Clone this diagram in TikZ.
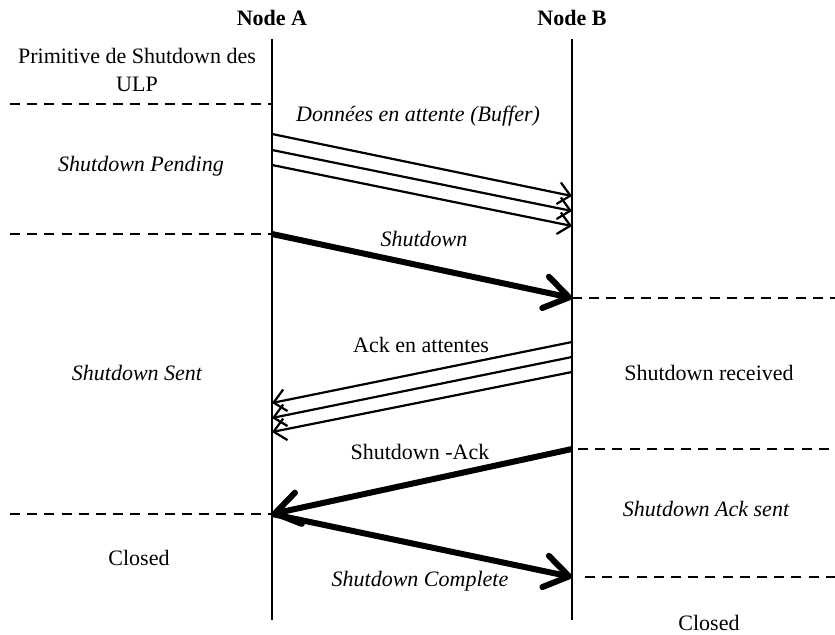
\documentclass[tikz,border=0pt]{standalone}
\usepackage{fontspec}
\setmainfont{Liberation Serif}
\usetikzlibrary{arrows.meta}
\tikzset{
  lifeline/.style={line width=1.4pt},
  msg/.style={line width=1.1pt,-{Straight Barb[length=6pt,width=11pt]}},
  bigmsg/.style={line width=3pt,-{Straight Barb[length=12pt,width=16pt,round]}},
  state/.style={dashed,line width=1.4pt,dash pattern=on 5pt off 3.6pt},
  lbl/.style={font=\fontsize{11pt}{13pt}\selectfont,inner sep=0pt}
}
\begin{document}
\begin{tikzpicture}[x=0.5pt,y=-0.5pt]
\useasboundingbox (0,0) rectangle (835,635);
% lifelines
\node [lbl,font=\fontsize{11pt}{13pt}\selectfont\bfseries] (nA) at (272,18) {Node A};
\node [lbl,font=\fontsize{11pt}{13pt}\selectfont\bfseries] (nB) at (572,18) {Node B};
\coordinate (Atop) at (272,39);
\coordinate (Abot) at (272,620);
\coordinate (Btop) at (572,39);
\coordinate (Bbot) at (572,620);
\draw [lifeline] (Atop) -- (Abot);
\draw [lifeline] (Btop) -- (Bbot);
% state separators
\coordinate (L1) at (10,104);
\coordinate (A1) at (272,104);
\coordinate (L2) at (10,234);
\coordinate (A2) at (272,234);
\coordinate (L3) at (10,514);
\coordinate (A3) at (272,514);
\coordinate (B1) at (572,298);
\coordinate (R1) at (835,298);
\coordinate (B2) at (578,449);
\coordinate (R2) at (835,449);
\coordinate (B3) at (585,577);
\coordinate (R3) at (835,577);
\draw [state] (L1) -- (A1);
\draw [state] (L2) -- (A2);
\draw [state] (L3) -- (A3);
\draw [state] (B1) -- (R1);
\draw [state] (B2) -- (R2);
\draw [state] (B3) -- (R3);
% buffered data
\coordinate (d1) at (272,134);
\coordinate (d2) at (272,150);
\coordinate (d3) at (272,165);
\coordinate (e1) at (572,196);
\coordinate (e2) at (572,211);
\coordinate (e3) at (572,226);
\draw [msg] (d1) -- (e1);
\draw [msg] (d2) -- (e2);
\draw [msg] (d3) -- (e3);
% shutdown
\coordinate (sB) at (572,298);
\draw [bigmsg] (A2) -- (sB);
% buffered acks
\coordinate (k1) at (572,342);
\coordinate (k2) at (572,357);
\coordinate (k3) at (572,372);
\coordinate (m1) at (272,403);
\coordinate (m2) at (272,418);
\coordinate (m3) at (272,432);
\draw [msg] (k1) -- (m1);
\draw [msg] (k2) -- (m2);
\draw [msg] (k3) -- (m3);
% shutdown ack and complete
\coordinate (aB) at (572,449);
\coordinate (cB) at (572,577);
\draw [bigmsg] (aB) -- (A3);
\draw [bigmsg] (A3) -- (cB);
% labels
\node [lbl,align=center] (prim) at (137,70) {Primitive de Shutdown des\\[1pt]ULP};
\node [lbl] (buf) at (418,116) {\itshape Données en attente (Buffer)};
\node [lbl] (pend) at (141,166) {\itshape Shutdown Pending};
\node [lbl] (shut) at (424,239) {\itshape Shutdown};
\node [lbl] (acks) at (421,345) {Ack en attentes};
\node [lbl] (sent) at (137,373) {\itshape Shutdown Sent};
\node [lbl] (recv) at (709,373) {Shutdown received};
\node [lbl] (sack) at (420,452) {Shutdown -Ack};
\node [lbl] (asent) at (706,509) {\itshape Shutdown Ack sent};
\node [lbl] (closA) at (139,558) {Closed};
\node [lbl] (comp) at (420,581) {\itshape Shutdown Complete};
\node [lbl] (closB) at (709,623) {Closed};
\end{tikzpicture}
\end{document}
